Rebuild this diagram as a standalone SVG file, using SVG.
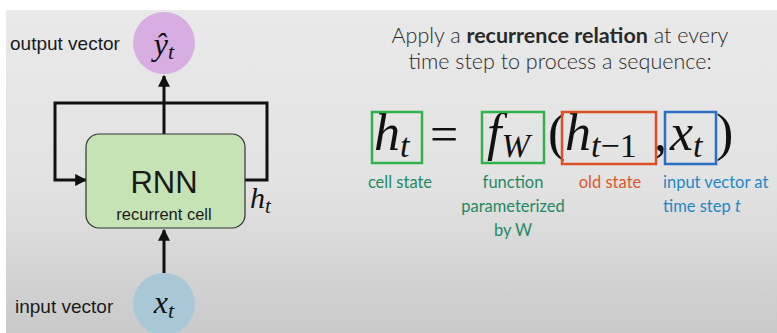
<svg xmlns="http://www.w3.org/2000/svg" width="777" height="333" viewBox="0 0 777 333">
<defs>
<linearGradient id="bg" x1="0" y1="0" x2="0" y2="1">
<stop offset="0" stop-color="#e9e9e9"/>
<stop offset="0.55" stop-color="#e2e2e2"/>
<stop offset="1" stop-color="#c9c9c9"/>
</linearGradient>
<marker id="ah" viewBox="0 0 10 10" refX="9" refY="5" markerWidth="4" markerHeight="4" orient="auto" markerUnits="strokeWidth">
<path d="M0,0 L10,5 L0,10 Z" fill="#111"/>
</marker>
<style>
.lbl{font-family:"Liberation Sans",Arial,sans-serif;fill:#1a1a1a;}
.math{font-family:"Liberation Serif","DejaVu Serif",serif;font-style:italic;fill:#111;}
.mr{font-family:"Liberation Serif","DejaVu Serif",serif;fill:#111;}
.gs{font-family:Lato,"Open Sans",sans-serif;}
.conn{fill:none;stroke:#111;stroke-width:3;}
.box{fill:none;stroke-width:2.5;}
</style>
</defs>
<rect x="0" y="0" width="777" height="333" fill="#ffffff"/>
<rect x="6" y="10" width="771" height="323" fill="url(#bg)"/>

<g id="connectors">
<polyline class="conn" points="164,134 164,103 267,103 267,180 245,180"/>
<polyline class="conn" points="164,103 55,103 55,180 86,180" marker-end="url(#ah)"/>
<line class="conn" x1="164" y1="103" x2="164" y2="76" marker-end="url(#ah)"/>
<line class="conn" x1="164" y1="273" x2="164" y2="230" marker-end="url(#ah)"/>
</g>

<g id="output-node">
<circle cx="164" cy="43" r="31" fill="#d8ade2"/>
<text class="math" x="164" y="55" font-size="32" text-anchor="middle">ŷ<tspan font-size="22" dy="4">t</tspan></text>
<text class="lbl" x="10" y="50" font-size="19">output vector</text>
</g>

<g id="rnn-node">
<rect x="86" y="134" width="159" height="94" rx="13" fill="#c6e3b6" stroke="#333" stroke-width="1.2"/>
<text class="lbl" x="164" y="193" font-size="31" text-anchor="middle">RNN</text>
<text class="lbl" x="164" y="220" font-size="16.5" text-anchor="middle">recurrent cell</text>
<text class="math" x="250" y="208" font-size="30">h<tspan font-size="21" dy="5">t</tspan></text>
</g>

<g id="input-node">
<circle cx="164" cy="304" r="31" fill="#a8c8d8"/>
<text class="math" x="164" y="313" font-size="32" text-anchor="middle">x<tspan font-size="22" dy="5">t</tspan></text>
<text class="lbl" x="15" y="313" font-size="19">input vector</text>
</g>

<g id="title">
<text class="gs" x="560" y="43" font-size="21.5" fill="#2a2a2a" text-anchor="middle" font-weight="300">Apply a <tspan font-weight="700">recurrence relation</tspan> at every</text>
<text class="gs" x="560" y="69" font-size="21.5" fill="#2a2a2a" text-anchor="middle" font-weight="300">time step to process a sequence:</text>
</g>

<g id="equation">
<text class="math" x="374" y="150" font-size="52">h<tspan font-size="34" dy="7">t</tspan></text>
<text class="mr" x="430" y="151" font-size="50">=</text>
<text class="math" x="487" y="150" font-size="52">f<tspan font-size="34" dy="7">W</tspan></text>
<text class="mr" x="548" y="150" font-size="52">(</text>
<text class="math" x="565" y="150" font-size="52">h<tspan font-size="34" dy="7">t</tspan><tspan class="mr" font-style="normal" font-size="34">−1</tspan></text>
<text class="mr" x="654" y="150" font-size="52">,</text>
<text class="math" x="670" y="150" font-size="52">x<tspan font-size="34" dy="7">t</tspan></text>
<text class="mr" x="716" y="150" font-size="52">)</text>
</g>

<g id="cell-state">
<rect class="box" x="372" y="112" width="50" height="51" stroke="#2fb24a"/>
<text class="gs" x="400" y="188" font-size="16.5" fill="#1f8a62" text-anchor="middle">cell state</text>
</g>
<g id="function">
<rect class="box" x="482" y="112" width="62" height="51" stroke="#2fb24a"/>
<text class="gs" font-size="16.5" fill="#1f8a62" text-anchor="middle"><tspan x="513" y="188">function</tspan><tspan x="513" y="212">parameterized</tspan><tspan x="513" y="236">by W</tspan></text>
</g>
<g id="old-state">
<rect class="box" x="562" y="112" width="94" height="52" stroke="#dc4f22"/>
<text class="gs" x="610" y="188" font-size="16.5" fill="#e0562a" text-anchor="middle">old state</text>
</g>
<g id="input-vector">
<rect class="box" x="665" y="112" width="51" height="52" stroke="#2b6fc2"/>
<text class="gs" font-size="16.5" fill="#1f88c6"><tspan x="663" y="188">input vector at</tspan><tspan x="663" y="212">time step <tspan font-style="italic">t</tspan></tspan></text>
</g>
</svg>
